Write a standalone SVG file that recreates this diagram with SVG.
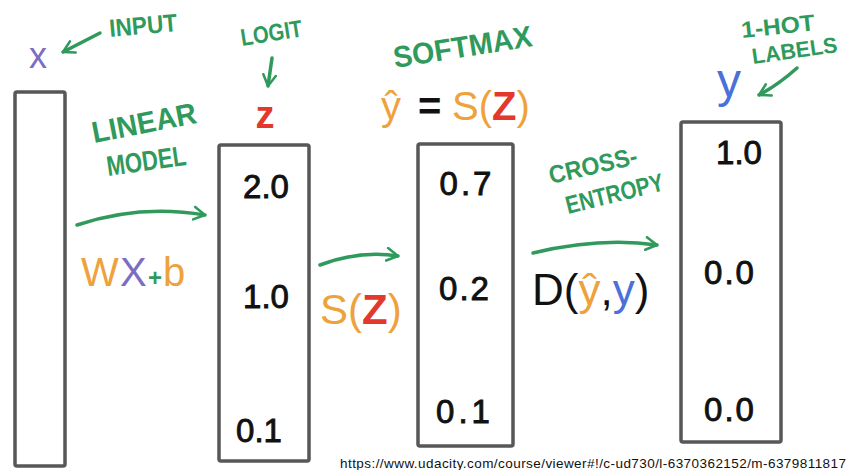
<svg xmlns="http://www.w3.org/2000/svg" width="850" height="470" viewBox="0 0 850 470">
  <style>
    .box { fill: #ffffff; stroke: #575757; stroke-width: 3.5; }
    .num { font-family: "Liberation Sans", Arial, sans-serif; font-size: 33px; fill: #111; stroke: #111; stroke-width: 0.9; text-anchor: middle; }
    .lbl { font-family: "Liberation Sans", Arial, sans-serif; font-weight: bold; fill: #2f9a5c; }
    .math { font-family: "Liberation Sans", Arial, sans-serif; }
    .g { fill: #2f9a5c; }
    .o { fill: #eea23c; }
    .r { fill: #e2392c; }
    .p { fill: #7c6cc2; }
    .b { fill: #4b70d9; }
    .k { fill: #111; }
    .conn { fill: none; stroke: #2f9a5c; stroke-width: 3.5; stroke-linecap: round; }
  </style>
  <defs>
    <marker id="head" viewBox="0 0 10 10" refX="8" refY="5" markerWidth="4.5" markerHeight="4.5" orient="auto" markerUnits="strokeWidth">
      <path d="M1,1 L8,5 L1,9" fill="none" stroke="#2f9a5c" stroke-width="1.6" stroke-linecap="round" stroke-linejoin="round"/>
    </marker>
  </defs>
  <rect width="850" height="470" fill="#ffffff"/>

  <g id="input-box">
    <rect class="box" x="15" y="92" width="50" height="374" rx="2"/>
  </g>
  <g id="logit-box">
    <rect class="box" x="219" y="145" width="90" height="316" rx="2"/>
    <text class="num" x="266" y="198">2.0</text>
    <text class="num" x="266" y="308">1.0</text>
    <text class="num" x="259" y="442">0.1</text>
  </g>
  <g id="softmax-box">
    <rect class="box" x="418" y="144" width="95" height="302" rx="2"/>
    <text class="num" x="467" y="195" letter-spacing="3">0.7</text>
    <text class="num" x="465" y="300" letter-spacing="2">0.2</text>
    <text class="num" x="465" y="423" letter-spacing="4">0.1</text>
  </g>
  <g id="label-box">
    <rect class="box" x="681" y="122" width="100" height="320" rx="2"/>
    <text class="num" x="739" y="164">1.0</text>
    <text class="num" x="730" y="284" letter-spacing="2">0.0</text>
    <text class="num" x="730" y="421" letter-spacing="2">0.0</text>
  </g>

  <g id="input-label">
    <text class="math p" x="38" y="68" font-size="36" text-anchor="middle">x</text>
    <text class="lbl" x="110" y="37" font-size="25" textLength="68" lengthAdjust="spacingAndGlyphs" transform="rotate(-5 110 37)">INPUT</text>
  </g>
  <g id="logit-label">
    <text class="lbl" x="242" y="46" font-size="24" textLength="62" lengthAdjust="spacingAndGlyphs" transform="rotate(-9 242 46)">LOGIT</text>
    <text class="math r" x="265" y="128" font-size="38" font-weight="bold" text-anchor="middle">z</text>
  </g>
  <g id="softmax-label">
    <text class="lbl" x="395" y="68" font-size="30" textLength="140" lengthAdjust="spacingAndGlyphs" transform="rotate(-9 395 68)">SOFTMAX</text>
    <text class="math" font-size="40" y="120"><tspan class="o" x="381">ŷ</tspan><tspan class="k" x="418" font-weight="bold">=</tspan><tspan class="o" x="452">S(</tspan><tspan class="r" font-weight="bold">Z</tspan><tspan class="o">)</tspan></text>
  </g>
  <g id="onehot-label">
    <text class="lbl" x="742" y="38" font-size="23" textLength="74" lengthAdjust="spacingAndGlyphs" transform="rotate(-6 742 38)">1-HOT</text>
    <text class="lbl" x="753" y="64" font-size="22" textLength="86" lengthAdjust="spacingAndGlyphs" transform="rotate(-8 753 64)">LABELS</text>
    <text class="math b" x="729" y="97" font-size="48" text-anchor="middle">y</text>
  </g>
  <g id="linear-label">
    <text class="lbl" x="94" y="143" font-size="30" textLength="106" lengthAdjust="spacingAndGlyphs" transform="rotate(-11 94 143)">LINEAR</text>
    <text class="lbl" x="108" y="176" font-size="28" textLength="80" lengthAdjust="spacingAndGlyphs" transform="rotate(-8 108 176)">MODEL</text>
    <text class="math" font-size="40" y="286"><tspan class="o" x="81">W</tspan><tspan class="p" x="120">X</tspan><tspan class="g" x="148" font-size="24" font-weight="bold">+</tspan><tspan class="o" x="163">b</tspan></text>
  </g>
  <g id="softmax-fn">
    <text class="math" font-size="42" y="324"><tspan class="o" x="320">S(</tspan><tspan class="r" font-weight="bold">Z</tspan><tspan class="o">)</tspan></text>
  </g>
  <g id="ce-label">
    <text class="lbl" x="551" y="184" font-size="25" textLength="90" lengthAdjust="spacingAndGlyphs" transform="rotate(-13 551 184)">CROSS-</text>
    <text class="lbl" x="568" y="214" font-size="25" textLength="100" lengthAdjust="spacingAndGlyphs" transform="rotate(-14 568 214)">ENTROPY</text>
    <text class="math" font-size="44" y="305"><tspan class="k" x="532">D(</tspan><tspan class="o">ŷ</tspan><tspan class="k">,</tspan><tspan class="b">y</tspan><tspan class="k">)</tspan></text>
  </g>

  <g id="connectors">
    <path class="conn" d="M100,33 L63,52" marker-end="url(#head)"/>
    <path class="conn" d="M272,58 Q270,72 268,86" marker-end="url(#head)"/>
    <path class="conn" d="M797,68 Q778,85 759,95" marker-end="url(#head)"/>
    <path class="conn" d="M77,225 Q140,204 205,215" marker-end="url(#head)"/>
    <path class="conn" d="M320,265 Q360,250 398,256" marker-end="url(#head)"/>
    <path class="conn" d="M533,253 Q600,237 657,245" marker-end="url(#head)"/>
  </g>

  <text x="846" y="468" font-family="Liberation Sans, Arial, sans-serif" font-size="13.5" fill="#111" text-anchor="end" textLength="506">https://www.udacity.com/course/viewer#!/c-ud730/l-6370362152/m-6379811817</text>
</svg>
